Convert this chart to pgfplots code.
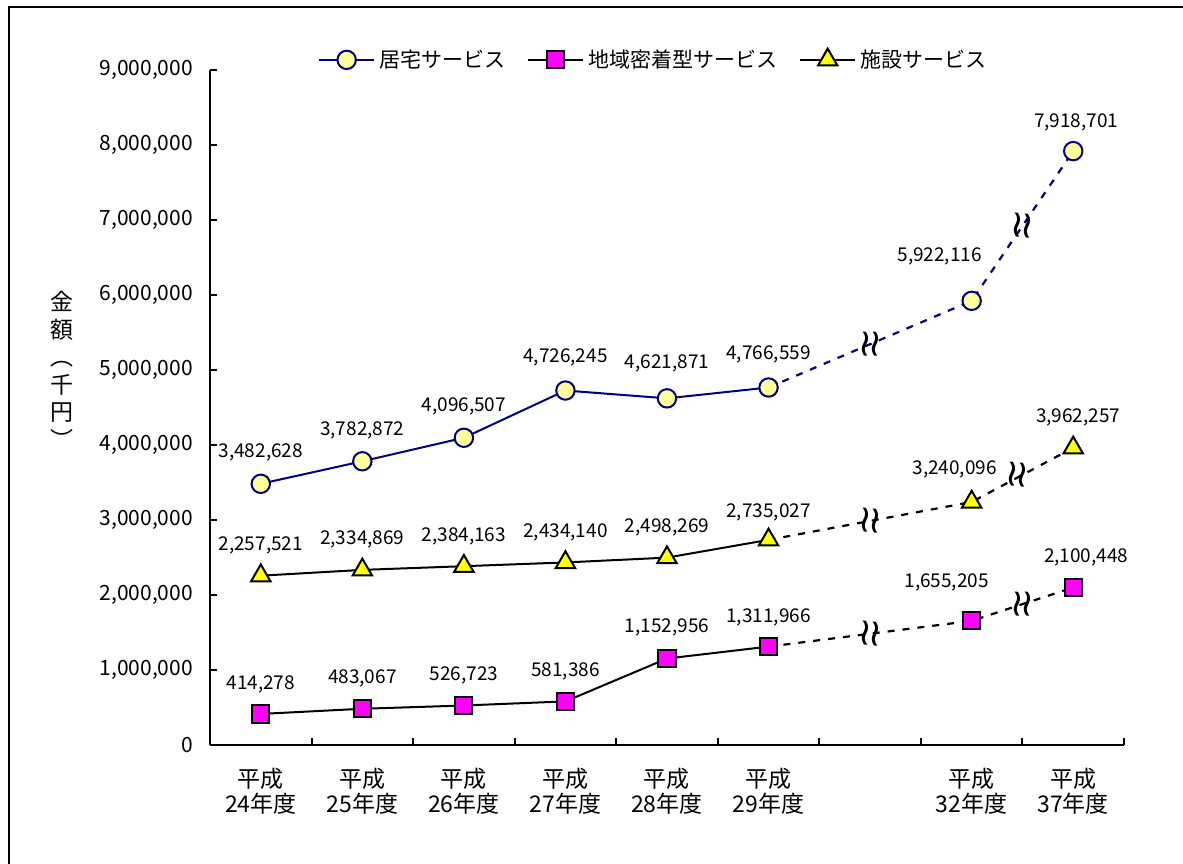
\documentclass[border=0pt]{standalone}
\usepackage{fontspec}
\setmainfont{Noto Sans CJK JP}
\newfontfamily\symfont{DejaVu Sans}
\usepackage{pgfplots}
\pgfplotsset{compat=1.18}
\usepackage{pgfplotstable}

\definecolor{navyline}{RGB}{0,0,128}
\definecolor{paleyellow}{RGB}{255,255,153}
\definecolor{magentafill}{RGB}{255,0,255}
\definecolor{yellowfill}{RGB}{255,255,0}

% 居宅サービス (実績 H24-H29, 見込み H32, H37)
\pgfplotstableread{
x y dx dy
0 3482628 0 15.5
1 3782872 0 15.5
2 4096507 0 15.5
3 4726245 0 16.5
4 4621871 0 17.5
5 4766559 0 16.5
}\kyotakuA
\pgfplotstableread{
x y dx dy
7 5922116 -16 22
8 7918701 1.5 14.5
}\kyotakuB
% 地域密着型サービス
\pgfplotstableread{
x y dx dy
0 414278 0 15
1 483067 0 15
2 526723 0 15
3 581386 0 15
4 1152956 0 15.5
5 1311966 0 14.5
}\chiikiA
\pgfplotstableread{
x y dx dy
7 1655205 -12.5 19
8 2100448 6.5 15
}\chiikiB
% 施設サービス
\pgfplotstableread{
x y dx dy
0 2257521 0 15
1 2334869 0 15
2 2384163 0 15
3 2434140 0 15
4 2498269 0 15
5 2735027 0 13.5
}\shisetsuA
\pgfplotstableread{
x y dx dy
7 3240096 -8.5 16.5
8 3962257 2.5 15
}\shisetsuB

\tikzset{breakmark/.style={font=\symfont\fontsize{19}{19}\selectfont, inner sep=0pt, rotate=-4}}
\newcommand{\brk}{≀\kern-2.2pt≀}

\pgfplotsset{
  vallabels/.style={
    nodes near coords={\pgfmathprintnumber[fixed,precision=0,1000 sep={,}]{\pgfplotspointmeta}},
    visualization depends on={\thisrow{dx}\as\dx},
    visualization depends on={\thisrow{dy}\as\dy},
    every node near coord/.append style={anchor=center, xshift=\dx pt, yshift=\dy pt,
      font=\fontsize{9.5}{11}\selectfont, text=black, inner sep=0pt},
  },
  kyotaku/.style={color=navyline, line width=1pt, mark=*,
    mark size=4.6pt, mark options={solid, fill=paleyellow, draw=navyline, line width=1pt}},
  chiiki/.style={color=black, line width=1pt, mark=square*,
    mark size=4.3pt, mark options={solid, fill=magentafill, draw=black, line width=1pt}},
  shisetsu/.style={color=black, line width=1pt, mark=triangle*,
    mark size=5.6pt, mark options={solid, fill=yellowfill, draw=black, line width=1pt}},
  forecast/.style={line width=1.1pt, dash pattern=on 3.5pt off 4pt, forget plot},
}

\begin{document}
\begin{tikzpicture}
\useasboundingbox (0,0) rectangle (591.5pt,431.5pt);
% frame
\draw[line width=1pt] (4.5pt,-1pt) -- (4.5pt,428pt) -- (593pt,428pt);

% y-axis title, set vertically
\node[align=center, font=\fontsize{11.5}{13.75}\selectfont, anchor=center]
  at (31pt,246.5pt) {金\\額\\︵\\千\\円\\︶};

\begin{axis}[
  at={(105pt,59pt)}, anchor=south west,
  scale only axis, width=457pt, height=337.5pt,
  xmin=-0.5, xmax=8.5, ymin=0, ymax=9000000,
  axis x line*=bottom, axis y line*=left,
  axis line style={line width=1pt, -},
  clip=false,
  xtick={0,1,2,3,4,5,7,8},
  xticklabels={{平成\\24年度},{平成\\25年度},{平成\\26年度},{平成\\27年度},{平成\\28年度},{平成\\29年度},{平成\\32年度},{平成\\37年度}},
  minor xtick={-0.5,0.5,1.5,2.5,3.5,4.5,5.5,6.5,7.5,8.5},
  major x tick style={draw=none},
  minor x tick style={line width=1pt, black},
  minor tick length=3.5pt,
  ytick={0,1000000,...,9000000},
  y tick style={line width=1pt, black},
  major tick length=3.5pt,
  tick align=inside,
  scaled y ticks=false,
  yticklabel={\pgfmathprintnumber[fixed,precision=0,1000 sep={,}]{\tick}},
  /pgf/number format/assume math mode=true,
  yticklabel style={font=\fontsize{10.5}{12}\selectfont, xshift=-5pt},
  xticklabel style={align=center, font=\fontsize{11.5}{12.5}\selectfont, yshift=-8pt},
  legend columns=3,
  legend style={draw=none, fill=none, at={(0.486,1.015)}, anchor=center,
    font=\fontsize{10.5}{12}\selectfont,
    /tikz/every even column/.append style={column sep=9pt}},
  legend image code/.code={\draw[mark repeat=2,mark phase=2,#1]
    plot coordinates {(0pt,0pt) (13.75pt,0pt) (27.5pt,0pt)};},
]
% dotted forecast connectors
\addplot[forecast, color=navyline] coordinates {(5,4766559) (7,5922116) (8,7918701)};
\addplot[forecast, color=black] coordinates {(5,1311966) (7,1655205) (8,2100448)};
\addplot[forecast, color=black] coordinates {(5,2735027) (7,3240096) (8,3962257)};

% results
\addplot[kyotaku, vallabels] table[x=x,y=y] {\kyotakuA};
\addlegendentry{居宅サービス}
\addplot[chiiki, vallabels] table[x=x,y=y] {\chiikiA};
\addlegendentry{地域密着型サービス}
\addplot[shisetsu, vallabels] table[x=x,y=y] {\shisetsuA};
\addlegendentry{施設サービス}

% forecast points
\addplot[kyotaku, only marks, vallabels, forget plot] table[x=x,y=y] {\kyotakuB};
\addplot[chiiki, only marks, vallabels, forget plot] table[x=x,y=y] {\chiikiB};
\addplot[shisetsu, only marks, vallabels, forget plot] table[x=x,y=y] {\shisetsuB};

% scale-break marks on the forecast connectors
\node[breakmark] at (axis cs:6,5344337) {\brk};
\node[breakmark] at (axis cs:7.5,6920408) {\brk};
\node[breakmark] at (axis cs:6,2987562) {\brk};
\node[breakmark] at (axis cs:7.45,3601177) {\brk};
\node[breakmark] at (axis cs:6,1483586) {\brk};
\node[breakmark] at (axis cs:7.5,1877827) {\brk};
\end{axis}
\end{tikzpicture}
\end{document}
